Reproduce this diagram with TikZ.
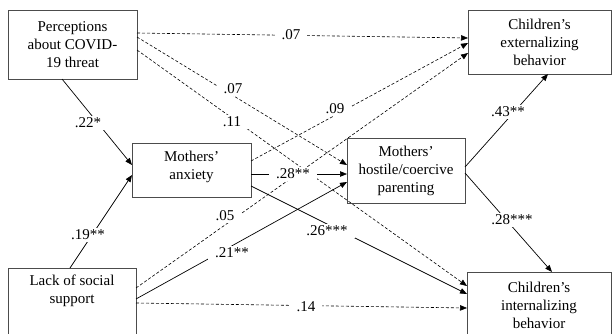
\documentclass[tikz,border=0pt]{standalone}
\usepackage{fontspec}
\setmainfont{Liberation Serif}
\usetikzlibrary{calc,arrows.meta}
\begin{document}
\begin{tikzpicture}[x=1pt,y=-1pt,
  font=\fontsize{15}{18}\selectfont,
  box/.style={draw=black!70, line width=0.8pt, rectangle, inner sep=0pt, outer sep=0pt, align=center, anchor=north west},
  txt/.style={align=center, inner sep=0pt},
  lbl/.style={fill=white, inner xsep=7pt, inner ysep=2pt},
  con/.style={line width=0.7pt, -{Triangle[length=7pt,width=5.5pt]}},
  dsh/.style={con, line width=0.6pt, dash pattern=on 3pt off 2pt}]
\clip (0,0) rectangle (612,334);
\fill[white] (0,0) rectangle (612,334);
% boxes
\node[box, minimum width=129pt, minimum height=69pt] (perc) at (8,10) {Perceptions\\about COVID-\\19 threat};
\node[box, minimum width=143pt, minimum height=64pt] (ext) at (468,10) {Children’s\\externalizing\\behavior};
\node[box, minimum width=119pt, minimum height=54pt] (anx) at (132,143) {};
\node[txt] (anxt) at (191.5,166.5) {Mothers’\\anxiety};
\node[box, minimum width=118pt, minimum height=65pt] (host) at (347,138) {Mothers’\\hostile/coercive\\parenting};
\node[box, minimum width=128pt, minimum height=90pt] (lack) at (8,268) {};
\node[txt] (lackt) at (72,291) {Lack of social\\support};
\node[box, minimum width=144pt, minimum height=90pt] (int) at (467,272) {};
\node[txt] (intt) at (539,305) {Children’s\\internalizing\\behavior};
% connectors
\draw[dsh] ($(perc.north east)+(0,23)$) -- ($(ext.north west)+(0,28)$);
\draw[dsh] ($(perc.north east)+(0,27)$) -- ($(host.north west)+(0,27)$);
\draw[dsh] ($(perc.north east)+(0,40)$) -- ($(int.north west)+(0,14)$);
\draw[con] ($(perc.south west)+(54,0)$) -- ($(anx.north west)+(0,22)$);
\draw[con] ($(lack.north west)+(62,0)$) -- ($(anx.north west)+(0,32)$);
\draw[dsh] ($(anx.north east)+(0,18)$) -- ($(ext.north west)+(0,33)$);
\draw[con] ($(anx.north east)+(0,31)$) -- ($(host.north west)+(0,36)$);
\draw[con] ($(anx.north east)+(0,43)$) -- ($(int.north west)+(0,22)$);
\draw[dsh] ($(lack.north east)+(0,20)$) -- ($(ext.north west)+(0,43)$);
\draw[con] ($(lack.north east)+(0,31)$) -- ($(host.north west)+(0,44)$);
\draw[dsh] ($(lack.north east)+(0,35)$) -- ($(int.north west)+(0,36)$);
\draw[con] ($(host.north east)+(0,29)$) -- ($(ext.south west)+(80,0)$);
\draw[con] ($(host.north east)+(0,35)$) -- ($(int.north west)+(85,0)$);
% labels
\node[lbl] (l1) at (291,35) {.07};
\node[lbl] (l2) at (233,89) {.07};
\node[lbl] (l3) at (232,122) {.11};
\node[lbl] (l4) at (335,109) {.09};
\node[lbl] (l5) at (88,123) {.22*};
\node[lbl] (l6) at (88,235) {.19**};
\node[lbl] (l7) at (293,174) {.28**};
\node[lbl] (l8) at (225,216) {.05};
\node[lbl] (l9) at (232,253) {.21**};
\node[lbl] (l10) at (327,231) {.26***};
\node[lbl] (l11) at (306,307) {.14};
\node[lbl] (l12) at (508,112) {.43**};
\node[lbl] (l13) at (512,220) {.28***};
\end{tikzpicture}
\end{document}
